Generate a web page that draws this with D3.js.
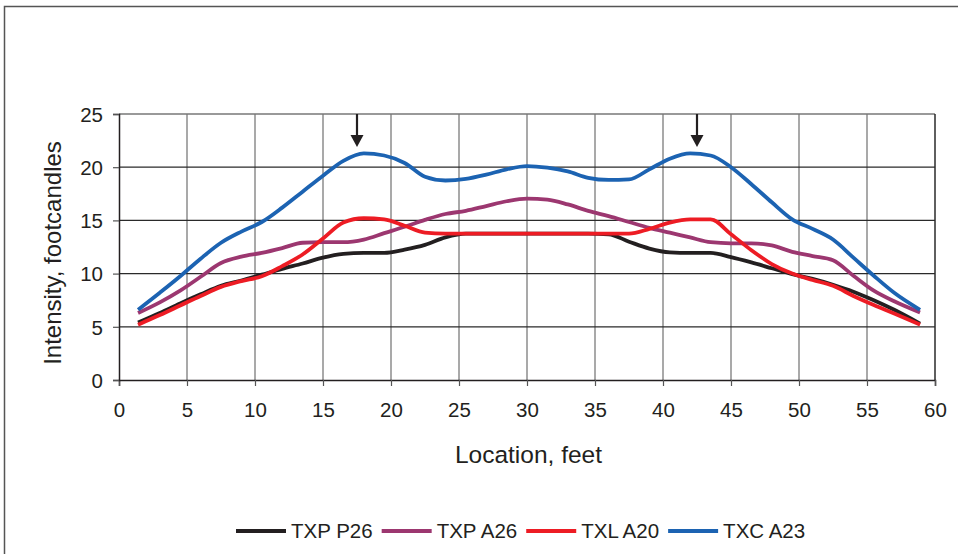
<!DOCTYPE html>
<html lang="en">
<head>
    <meta charset="UTF-8">
    <title>Intensity by location</title>
    <script src="https://d3js.org/d3.v7.min.js"></script>
    <style>
        body { margin: 0; background: #fff; }
        text { font-family: "Liberation Sans", Arial, sans-serif; fill: #231f20; }
    </style>
</head>
<body>
    <div id="chart"></div>

    <script>
        // Location of each measurement, feet
        const locations = [1.4, 3, 4.5, 6, 7.5, 9, 10.5, 12, 13.5, 15, 16.5, 18, 19.5, 21, 22.5, 24, 25.5, 27, 28.5, 30,
            31.5, 33, 34.5, 36, 37.5, 39, 40.5, 42, 43.5, 45, 46.5, 48, 49.5, 51, 52.5, 54, 55.5, 57, 58.9];

        const txpP26 = [5.4, 6.3, 7.2, 8.05, 8.85, 9.35, 9.9, 10.45, 10.95, 11.5, 11.85, 11.95, 11.95, 12.25, 12.7, 13.4, 13.75, 13.75, 13.75, 13.75,
            13.75, 13.75, 13.75, 13.7, 13.0, 12.35, 12.0, 11.95, 11.95, 11.55, 11.05, 10.5, 9.95, 9.5, 8.95, 8.3, 7.5, 6.6, 5.3];
        const txpA26 = [6.3, 7.3, 8.4, 9.7, 11.0, 11.6, 11.95, 12.4, 12.9, 12.95, 12.95, 13.2, 13.8, 14.4, 15.05, 15.6, 15.9, 16.35, 16.8, 17.05,
            16.95, 16.5, 15.9, 15.4, 14.85, 14.3, 13.85, 13.4, 12.95, 12.85, 12.85, 12.65, 12.05, 11.65, 11.25, 9.8, 8.4, 7.4, 6.35];
        const txlA20 = [5.2, 6.1, 7.0, 7.9, 8.75, 9.3, 9.75, 10.7, 11.8, 13.3, 14.8, 15.2, 15.1, 14.5, 13.85, 13.75, 13.75, 13.75, 13.75, 13.75,
            13.75, 13.75, 13.75, 13.75, 13.75, 14.2, 14.8, 15.1, 15.1, 13.7, 12.2, 10.9, 10.0, 9.4, 8.85, 7.9, 7.05, 6.25, 5.2];
        const txcA23 = [6.6, 8.2, 9.75, 11.4, 12.9, 13.95, 14.85, 16.2, 17.7, 19.2, 20.6, 21.3, 21.1, 20.4, 19.1, 18.75, 18.9, 19.3, 19.8, 20.1,
            19.95, 19.6, 19.0, 18.8, 18.85, 19.8, 20.8, 21.3, 21.1, 20.0, 18.4, 16.7, 15.1, 14.2, 13.2, 11.5, 9.8, 8.2, 6.6];

        const seriesNames = ["TXP P26", "TXP A26", "TXL A20", "TXC A23"];
        const seriesValues = [txpP26, txpA26, txlA20, txcA23];
        const seriesColors = ["#231f20", "#9c3770", "#ed1c24", "#1c63b2"];

        const xTicks = [0, 5, 10, 15, 20, 25, 30, 35, 40, 45, 50, 55, 60];
        const yTicks = [0, 5, 10, 15, 20, 25];

        // Peak markers (arrows), location and tip value
        const arrowLocations = [17.5, 42.5];
        const arrowTip = 21.9;

        const W = 958, H = 554;
        const margin = { top: 114, right: 23, bottom: 174, left: 119 };
        const width = W - margin.left - margin.right;
        const height = H - margin.top - margin.bottom;

        const root = d3.select("#chart").append("svg")
            .attr("width", W)
            .attr("height", H);

        // outer frame
        root.append("rect")
            .attr("x", 4.5).attr("y", 6.5)
            .attr("width", 1000).attr("height", 700)
            .attr("fill", "none")
            .attr("stroke", "#555")
            .attr("stroke-width", 1.5);

        const svg = root.append("g")
            .attr("transform", `translate(${margin.left},${margin.top})`);

        const x = d3.scaleLinear().domain([0, 60]).range([0, width]);
        const y = d3.scaleLinear().domain([0, 25]).range([height, 0]);

        // vertical grid (grey)
        svg.append("g")
            .selectAll("line")
            .data(xTicks.slice(1, -1))
            .join("line")
            .attr("x1", d => x(d)).attr("x2", d => x(d))
            .attr("y1", 0).attr("y2", height)
            .attr("stroke", "#8c8c8c")
            .attr("stroke-width", 1.5);

        // horizontal grid (dark)
        svg.append("g")
            .selectAll("line")
            .data(yTicks.slice(1))
            .join("line")
            .attr("x1", 0).attr("x2", width)
            .attr("y1", d => y(d)).attr("y2", d => y(d))
            .attr("stroke", d => d === 25 ? "#777" : "#2a2a2a")
            .attr("stroke-width", 1.3);

        // right border
        svg.append("line")
            .attr("x1", width).attr("x2", width)
            .attr("y1", 0).attr("y2", height)
            .attr("stroke", "#2a2a2a")
            .attr("stroke-width", 1.5);

        const xAxis = svg.append("g")
            .attr("transform", `translate(0,${height})`)
            .call(d3.axisBottom(x).tickValues(xTicks).tickSize(6).tickPadding(16));

        const yAxis = svg.append("g")
            .call(d3.axisLeft(y).tickValues(yTicks).tickSize(6).tickPadding(10));

        [xAxis, yAxis].forEach(a => {
            a.select(".domain").attr("stroke", "#231f20").attr("stroke-width", 1.5);
            a.selectAll(".tick line").attr("stroke", "#555").attr("stroke-width", 1.2);
            a.selectAll(".tick text")
                .style("font-family", "'Liberation Sans', Arial, sans-serif")
                .style("font-size", "20.5px")
                .attr("fill", "#231f20");
        });
        yAxis.selectAll(".tick text").attr("dy", "0.36em");

        // axis titles
        svg.append("text")
            .attr("x", width / 2 + 1.5)
            .attr("y", height + 83)
            .attr("text-anchor", "middle")
            .style("font-size", "24.5px")
            .text("Location, feet");

        svg.append("text")
            .attr("transform", `translate(-58,${height / 2 + 6}) rotate(-90)`)
            .attr("text-anchor", "middle")
            .style("font-size", "24px")
            .text("Intensity, footcandles");

        // lines
        const line = d3.line()
            .x((d, i) => x(locations[i]))
            .y(d => y(d))
            .curve(d3.curveMonotoneX);

        svg.append("g")
            .selectAll("path")
            .data(seriesValues)
            .join("path")
            .attr("fill", "none")
            .attr("stroke", (d, i) => seriesColors[i])
            .attr("stroke-width", 3.8)
            .attr("stroke-linejoin", "round")
            .attr("d", line);

        // arrows
        const arrows = svg.append("g");
        arrowLocations.forEach(loc => {
            const ax = x(loc), tipY = y(arrowTip);
            arrows.append("line")
                .attr("x1", ax).attr("x2", ax)
                .attr("y1", y(25)).attr("y2", tipY - 8)
                .attr("stroke", "#231f20")
                .attr("stroke-width", 2.2);
            arrows.append("path")
                .attr("d", `M${ax - 6.5},${tipY - 12} L${ax + 6.5},${tipY - 12} L${ax},${tipY} Z`)
                .attr("fill", "#231f20");
        });

        // legend
        const legend = root.append("g").attr("transform", "translate(236,531)");
        let lx = 0;
        seriesNames.forEach((name, i) => {
            const item = legend.append("g").attr("transform", `translate(${lx},0)`);
            item.append("line")
                .attr("x1", 0).attr("x2", 50)
                .attr("y1", 0).attr("y2", 0)
                .attr("stroke", seriesColors[i])
                .attr("stroke-width", 4);
            const t = item.append("text")
                .attr("x", 55)
                .attr("y", 0)
                .attr("dy", "0.36em")
                .style("font-size", "20.5px")
                .text(name);
            lx += 55 + t.node().getComputedTextLength() + 9;
        });
    </script>
</body>
</html>
